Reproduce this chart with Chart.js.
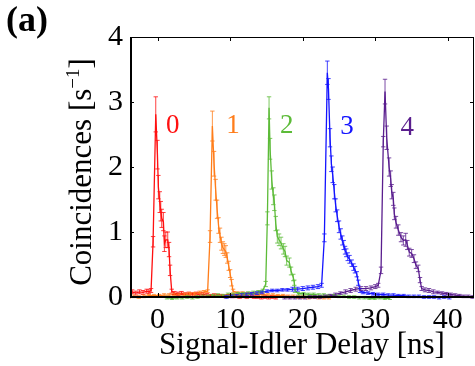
<!DOCTYPE html>
<html><head><meta charset="utf-8">
<script src="https://cdn.jsdelivr.net/npm/chart.js@4/dist/chart.umd.min.js"></script>
<style>html,body{margin:0;padding:0;background:#fff}#wrap{width:475px;height:366px;position:relative}</style>
</head><body><div id="wrap"><canvas id="c" width="475" height="366"></canvas></div>
<script>
// ---- data ----
const xTicks = [0, 10, 20, 30, 40];
const yTicks = [0, 1, 2, 3, 4];
const seriesNames = ['0', '1', '2', '3', '4'];

const x0 = [-4,-3.5,-3,-2.5,-2,-1.5,-1.2,-0.9,-0.62,-0.25,-0.02,0.11,0.30,0.44,0.57,0.80,0.94,1.13,1.40,1.58,1.72,1.95,2.3,2.8,3.3,3.8,4.3,4.8,5.3,5.8,6.3,6.8,7.3,7.8,8.3,8.8,9.3,9.8,10.3,10.8,11.3,11.8,12.3,12.8,13.3,13.8,14.3,14.8,15.3,15.8,16.3];
const y0 = [0.07,0.08,0.06,0.08,0.07,0.09,0.08,0.10,0.85,2.81,2.19,1.69,1.46,1.32,1.21,1.16,0.82,0.88,0.88,0.73,0.41,0.09,0.06,0.05,0.06,0.04,0.05,0.04,0.05,0.03,0.04,0.03,0.02,0.03,0.02,0.02,0.01,0.02,0.01,0.01,0.00,0.01,0.00,0.01,0.00,0.00,-0.01,0.00,-0.01,0.00,-0.01];
const e0 = [0.03,0.03,0.03,0.03,0.03,0.03,0.03,0.03,0.08,0.27,0.22,0.18,0.16,0.15,0.14,0.14,0.12,0.12,0.12,0.11,0.08,0.03,0.025,0.025,0.025,0.025,0.025,0.025,0.025,0.025,0.025,0.025,0.02,0.02,0.02,0.02,0.02,0.02,0.02,0.02,0.02,0.02,0.02,0.02,0.02,0.02,0.02,0.02,0.02,0.02,0.02];

const x1 = [-4,-3.3,-2.6,-1.9,-1.2,-0.5,0.2,0.9,1.6,2.3,3.0,3.7,4.4,5.1,5.8,6.4,6.9,7.23,7.55,7.78,8.0,8.2,8.4,8.6,8.8,9.0,9.2,9.4,9.6,9.8,10.0,10.2,10.4,11.0,11.7,12.4,13.1,13.8,14.5,15.2,15.9,16.6,17.3,18.0,18.7,19.4,20.1,20.8,21.5,22.2,22.9,23.6];
const y1 = [0.00,0.01,0.00,0.01,0.02,0.02,0.02,0.03,0.03,0.04,0.03,0.04,0.05,0.05,0.07,0.08,0.09,0.93,2.63,2.05,1.65,1.35,1.10,0.95,0.82,0.76,0.73,0.70,0.60,0.48,0.36,0.22,0.09,0.06,0.06,0.05,0.05,0.04,0.04,0.03,0.03,0.02,0.02,0.01,0.01,0.00,0.00,-0.01,0.00,-0.01,-0.01,-0.01];
const e1 = [0.02,0.02,0.02,0.02,0.02,0.02,0.02,0.02,0.02,0.02,0.02,0.02,0.02,0.02,0.02,0.02,0.02,0.09,0.23,0.19,0.16,0.14,0.12,0.11,0.10,0.09,0.09,0.09,0.08,0.07,0.06,0.05,0.03,0.02,0.02,0.02,0.02,0.02,0.02,0.02,0.02,0.02,0.02,0.02,0.02,0.02,0.02,0.02,0.02,0.02,0.02,0.02];

const x2 = [1.3,2.0,2.7,3.4,4.1,4.8,5.5,6.2,6.9,7.6,8.3,9.0,9.7,10.4,11.1,11.8,12.5,13.2,13.9,14.5,14.9,15.13,15.36,15.5,15.73,15.95,16.09,16.28,16.5,16.74,17.01,17.33,17.56,17.79,18.16,18.39,18.7,18.84,18.94,19.4,20.1,20.8,21.5,22.2,22.9,23.6,24.3,25.0,25.7,26.4,27.1,27.8,28.5,29.2,29.9,30.6,31.3,32.0];
const y2 = [-0.01,-0.02,-0.01,-0.01,0.00,-0.01,0.00,0.01,0.01,0.02,0.03,0.02,0.04,0.04,0.05,0.05,0.06,0.07,0.08,0.10,0.20,1.21,2.91,2.28,1.80,1.55,1.45,1.13,0.93,0.88,0.83,0.74,0.70,0.56,0.53,0.40,0.30,0.22,0.10,0.05,0.05,0.04,0.04,0.03,0.03,0.02,0.02,0.01,0.01,0.00,0.00,-0.01,-0.01,-0.02,-0.02,-0.01,-0.02,-0.02];
const e2 = [0.02,0.02,0.02,0.02,0.02,0.02,0.02,0.02,0.02,0.02,0.02,0.02,0.02,0.02,0.02,0.02,0.02,0.02,0.02,0.02,0.04,0.10,0.17,0.16,0.14,0.13,0.12,0.11,0.10,0.09,0.09,0.08,0.08,0.07,0.07,0.06,0.05,0.04,0.03,0.02,0.02,0.02,0.02,0.02,0.02,0.02,0.02,0.02,0.02,0.02,0.02,0.02,0.02,0.02,0.02,0.02,0.02,0.02];

const x3 = [9.5,10.2,10.9,11.6,12.3,13.0,13.7,14.4,15.1,15.8,16.5,17.2,17.9,18.6,19.3,20.0,20.7,21.4,22.1,22.6,22.98,23.39,23.55,23.76,23.95,24.13,24.35,24.54,24.75,25.0,25.23,25.46,25.65,25.83,26.0,26.2,26.45,26.75,27.0,27.2,27.45,27.66,27.9,28.3,29.0,29.7,30.4,31.1,31.8,32.5,33.2,33.9,34.6,35.3,36.0,36.7,37.4,38.1,38.8,39.5,40.2];
const y3 = [0.00,0.01,0.02,0.03,0.04,0.05,0.06,0.07,0.09,0.10,0.10,0.11,0.11,0.12,0.12,0.13,0.14,0.15,0.16,0.18,0.91,3.45,3.20,2.45,2.05,1.88,1.62,1.41,1.25,1.08,0.97,0.87,0.80,0.72,0.68,0.62,0.58,0.52,0.46,0.42,0.35,0.22,0.10,0.07,0.06,0.05,0.04,0.04,0.03,0.03,0.02,0.02,0.01,0.01,0.01,0.00,0.00,0.00,-0.01,0.00,-0.01];
const e3 = [0.02,0.02,0.02,0.02,0.02,0.02,0.02,0.02,0.02,0.02,0.02,0.02,0.02,0.03,0.03,0.03,0.03,0.03,0.03,0.03,0.06,0.18,0.16,0.14,0.12,0.12,0.11,0.10,0.09,0.09,0.08,0.07,0.07,0.06,0.06,0.06,0.06,0.05,0.05,0.05,0.04,0.04,0.03,0.02,0.02,0.02,0.02,0.02,0.02,0.02,0.02,0.02,0.02,0.02,0.02,0.02,0.02,0.02,0.02,0.02,0.02];

const x4 = [17.5,18.2,18.9,19.6,20.3,21.0,21.7,22.4,23.1,23.8,24.5,25.2,25.9,26.6,27.3,28.0,28.7,29.4,30.0,30.4,30.79,31.1,31.34,31.57,31.9,32.12,32.26,32.48,32.62,32.85,33.17,33.54,33.86,34.19,34.41,34.68,35.01,35.33,35.6,35.92,36.16,36.39,36.85,37.4,38.0,38.6,39.2,39.8,40.4,41.0,41.6,42.2,42.8,43.4,44.0];
const y4 = [-0.01,-0.01,-0.01,-0.01,-0.01,0.00,0.00,0.00,0.01,0.02,0.04,0.06,0.08,0.10,0.12,0.13,0.13,0.14,0.16,0.18,0.41,2.39,3.16,2.45,2.00,1.82,1.62,1.51,1.28,1.15,1.03,0.92,0.87,0.88,0.80,0.69,0.67,0.59,0.49,0.44,0.26,0.13,0.11,0.10,0.08,0.07,0.06,0.05,0.04,0.03,0.02,0.01,0.01,0.00,0.00];
const e4 = [0.02,0.02,0.02,0.02,0.02,0.02,0.02,0.02,0.02,0.02,0.02,0.02,0.03,0.03,0.03,0.03,0.03,0.03,0.03,0.03,0.05,0.08,0.19,0.18,0.14,0.12,0.11,0.10,0.09,0.09,0.08,0.07,0.07,0.10,0.07,0.06,0.06,0.06,0.05,0.05,0.04,0.03,0.03,0.03,0.03,0.02,0.02,0.02,0.02,0.02,0.02,0.02,0.02,0.02,0.02];

const labelX = [2.1, 10.4, 17.8, 26.1, 34.4];
const labelY = [2.63, 2.63, 2.63, 2.62, 2.60];

// ---- styling ----
const colors = ['#ff1010', '#ff7d1a', '#5cbb38', '#1414ff', '#5a1e8e'];
const FONT = '"Liberation Serif", "Times New Roman", serif';

const xs = [x0, x1, x2, x3, x4];
const ys = [y0, y1, y2, y3, y4];
const es = [e0, e1, e2, e3, e4];

const datasets = seriesNames.map((n, i) => ({
  label: n,
  data: xs[i].map((xv, j) => ({ x: xv, y: ys[i][j] })),
  borderColor: colors[i],
  backgroundColor: colors[i],
  borderWidth: 1.3,
  pointRadius: 0,
  showLine: true,
  tension: 0,
  order: 5 - i,
  clip: { left: 0, right: 0, top: 0, bottom: 3 }
}));

const deco = {
  id: 'deco',
  afterDatasetsDraw(chart) {
    const { ctx, chartArea: a, scales: { x, y } } = chart;
    // error bars
    ctx.save();
    ctx.beginPath();
    ctx.rect(a.left, a.top, a.right - a.left, a.bottom - a.top + 3);
    ctx.clip();
    datasets.forEach((ds, i) => {
      ctx.strokeStyle = colors[i];
      ctx.globalAlpha = 0.8;
      ctx.lineWidth = 1;
      ds.data.forEach((p, j) => {
        const e = es[i][j];
        const px = x.getPixelForValue(p.x);
        const t = y.getPixelForValue(p.y + e);
        const b = y.getPixelForValue(p.y - e);
        ctx.beginPath();
        ctx.moveTo(px, t); ctx.lineTo(px, b);
        ctx.moveTo(px - 2.2, t); ctx.lineTo(px + 2.2, t);
        ctx.moveTo(px - 2.2, b); ctx.lineTo(px + 2.2, b);
        ctx.stroke();
      });
    });
    ctx.restore();

    // frame
    ctx.save();
    ctx.strokeStyle = '#000';
    ctx.lineWidth = 1;
    ctx.beginPath();
    ctx.moveTo(a.left, a.top + 0.5); ctx.lineTo(a.right, a.top + 0.5);
    ctx.moveTo(a.right - 0.5, a.top); ctx.lineTo(a.right - 0.5, a.bottom);
    ctx.stroke();
    ctx.lineWidth = 2;
    ctx.beginPath();
    ctx.moveTo(a.left + 1, a.top); ctx.lineTo(a.left + 1, a.bottom + 1);
    ctx.moveTo(a.left, a.bottom); ctx.lineTo(a.right, a.bottom);
    ctx.stroke();
    // inward ticks
    ctx.lineWidth = 1;
    ctx.beginPath();
    xTicks.forEach(v => {
      const px = Math.round(x.getPixelForValue(v)) + 0.5;
      ctx.moveTo(px, a.bottom); ctx.lineTo(px, a.bottom - 4);
      ctx.moveTo(px, a.top); ctx.lineTo(px, a.top + 4);
    });
    yTicks.forEach(v => {
      const py = Math.round(y.getPixelForValue(v)) + 0.5;
      ctx.moveTo(a.left, py); ctx.lineTo(a.left + 4, py);
      ctx.moveTo(a.right, py); ctx.lineTo(a.right - 4, py);
    });
    ctx.stroke();

    // peak labels
    ctx.font = '27px ' + FONT;
    ctx.textAlign = 'center';
    ctx.textBaseline = 'middle';
    seriesNames.forEach((n, i) => {
      ctx.fillStyle = colors[i];
      ctx.fillText(n, x.getPixelForValue(labelX[i]), y.getPixelForValue(labelY[i]));
    });

    // panel label
    ctx.fillStyle = '#000';
    ctx.textAlign = 'left';
    ctx.textBaseline = 'alphabetic';
    ctx.font = 'bold 36px ' + FONT;
    ctx.fillText('(a)', 6, 31);

    // y title with superscript
    ctx.translate(91, 172);
    ctx.rotate(-Math.PI / 2);
    const big = '31px ' + FONT, small = '19px ' + FONT;
    const t1 = 'Coincidences [s', t2 = '\u22121', t3 = ']';
    ctx.font = big; const w1 = ctx.measureText(t1).width, w3 = ctx.measureText(t3).width;
    ctx.font = small; const w2 = ctx.measureText(t2).width;
    let sx = -(w1 + w2 + w3) / 2;
    ctx.font = big; ctx.fillText(t1, sx, 0); sx += w1;
    ctx.font = small; ctx.fillText(t2, sx, -12); sx += w2;
    ctx.font = big; ctx.fillText(t3, sx, 0);
    ctx.restore();
  }
};

new Chart(document.getElementById('c'), {
  type: 'scatter',
  data: { datasets },
  options: {
    responsive: false,
    animation: false,
    layout: { padding: { top: 37, right: 1, left: 0, bottom: 0 } },
    plugins: { legend: { display: false }, tooltip: { enabled: false } },
    scales: {
      x: {
        type: 'linear', min: -3.8, max: 43.6,
        afterBuildTicks: s => { s.ticks = xTicks.map(v => ({ value: v })); },
        afterFit: s => { s.height = 69; },
        grid: { display: false, drawTicks: false },
        border: { display: false },
        ticks: { color: '#000', padding: 5, font: { family: FONT, size: 30, lineHeight: 1.2 }, maxRotation: 0 },
        title: { display: true, text: 'Signal-Idler Delay [ns]', color: '#000',
                 font: { family: FONT, size: 31, lineHeight: 1.2 }, padding: { top: 0, bottom: 2 } }
      },
      y: {
        type: 'linear', min: 0, max: 4,
        afterBuildTicks: s => { s.ticks = yTicks.map(v => ({ value: v })); },
        afterFit: s => { s.width = 130; },
        grid: { display: false, drawTicks: false },
        border: { display: false },
        ticks: { color: '#000', padding: 7, font: { family: FONT, size: 30, lineHeight: 1.2 } }
      }
    }
  },
  plugins: [deco]
});
</script>
</body></html>
